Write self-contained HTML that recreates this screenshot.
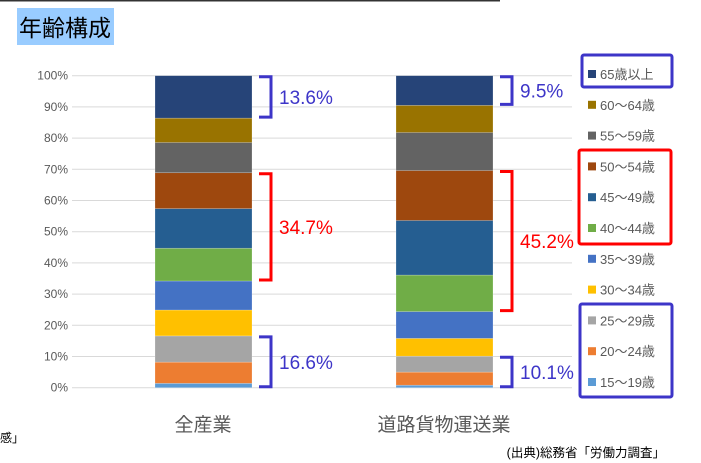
<!DOCTYPE html>
<html><head><meta charset="utf-8"><style>
body{margin:0;width:701px;height:463px;background:#fff;overflow:hidden;font-family:"Liberation Sans","Noto Sans CJK JP",sans-serif;}
svg{display:block}
</style></head><body>
<svg id="c" width="701" height="463">
<line x1="0" y1="0.5" x2="500" y2="0.5" stroke="#333" stroke-width="2"/>
<rect x="17" y="8" width="97" height="37" fill="#99ccff"/>
<text x="65" y="36" font-size="23" text-anchor="middle" fill="#000" font-family="Noto Sans CJK JP,sans-serif">年齢構成</text>
<g id="grid"></g><g id="bars"></g><g id="legend"></g><g id="ann"></g>
<text x="203" y="431" font-size="19" text-anchor="middle" fill="#595959">全産業</text>
<text x="444" y="431" font-size="19" text-anchor="middle" fill="#595959">道路貨物運送業</text>
<text x="665" y="457" font-size="12.5" text-anchor="end" fill="#000">(出典)総務省「労働力調査」</text>
<text x="0" y="442" font-size="12" fill="#000">感」</text>
</svg>
<script>
const categories=["全産業","道路貨物運送業"];
const seriesNames=["15～19歳","20～24歳","25～29歳","30～34歳","35～39歳","40～44歳","45～49歳","50～54歳","55～59歳","60～64歳","65歳以上"];
const allIndustry=[1.4,6.8,8.4,8.3,9.3,10.5,12.7,11.5,9.7,7.8,13.6];
const roadFreight=[0.8,4.2,5.1,5.7,8.6,11.7,17.5,16.0,12.2,8.7,9.5];
const tickLabels=["0%","10%","20%","30%","40%","50%","60%","70%","80%","90%","100%"];
const colors=["#5b9bd5","#ed7d31","#a5a5a5","#ffc000","#4472c4","#70ad47","#255e91","#9e480e","#636363","#997300","#264478"];
const NS="http://www.w3.org/2000/svg";
const y0=387.7,y100=75.7;
function yS(v){return y0-(y0-y100)*v/100;}
function mk(t,a,p){const e=document.createElementNS(NS,t);for(const k in a)e.setAttribute(k,a[k]);p.appendChild(e);return e;}
const grid=document.getElementById('grid');
tickLabels.forEach((t,i)=>{
 const v=i*10;
 const l=mk('line',{x1:72,x2:572,y1:yS(v),y2:yS(v),stroke:'#d9d9d9','stroke-width':1},grid);
 
 
 const tx=mk('text',{x:68,y:yS(v)+4,'font-size':12,'text-anchor':'end',fill:'#595959'},grid);
 tx.textContent=t;
 
 
});
const bars=document.getElementById('bars');
const data=[allIndustry,roadFreight];const bx=[155,396];const bw=97;
data.forEach((arr,ci)=>{let acc=0;arr.forEach((v,si)=>{
 const r=mk('rect',{x:bx[ci],y:yS(acc+v),width:bw,height:yS(acc)-yS(acc+v),fill:colors[si],stroke:'#fff','stroke-opacity':0.35,'stroke-width':0.6},bars);
 
 
 acc+=v;});});
const lg=document.getElementById('legend');
for(let i=0;i<11;i++){const si=10-i;const cy=74+i*30.8;
 const s=mk('rect',{x:588,y:cy-4,width:8,height:8,fill:colors[si]},lg);
 
 
 const t=mk('text',{x:600,y:cy+5,'font-size':13,fill:'#595959'},lg);
 t.textContent=seriesNames[si];
 
 }
const boxes=[[582,55,90,32,'#3d35c8'],[579,150,92,94,'#ff0000'],[580,304,92,93,'#3d35c8']];
boxes.forEach(b=>{const r=mk('rect',{x:b[0],y:b[1],width:b[2],height:b[3],fill:'none',stroke:b[4],'stroke-width':3,rx:2},lg);
 
 });
const ann=document.getElementById('ann');
function sum(a,i,j){let s=0;for(let k=i;k<j;k++)s+=a[k];return s;}
const groups=[[0,3,'#3d35c8'],[5,8,'#ff0000'],[10,11,'#3d35c8']];
data.forEach((arr,ci)=>{const x=bx[ci]+bw+7;
 groups.forEach(g=>{const lo=sum(arr,0,g[0]),hi=sum(arr,0,g[1]);const y1=yS(hi)+1,y2=yS(lo)-1;
  const p=mk('path',{d:`M${x} ${y1} H${x+12} V${y2} H${x}`,fill:'none',stroke:g[2],'stroke-width':3},ann);
  
  
  const t=mk('text',{x:x+20,y:(y1+y2)/2+7,'font-size':19,fill:g[2]},ann);
  t.textContent=(hi-lo).toFixed(1)+'%';
  
  });});
</script>
</body></html>
